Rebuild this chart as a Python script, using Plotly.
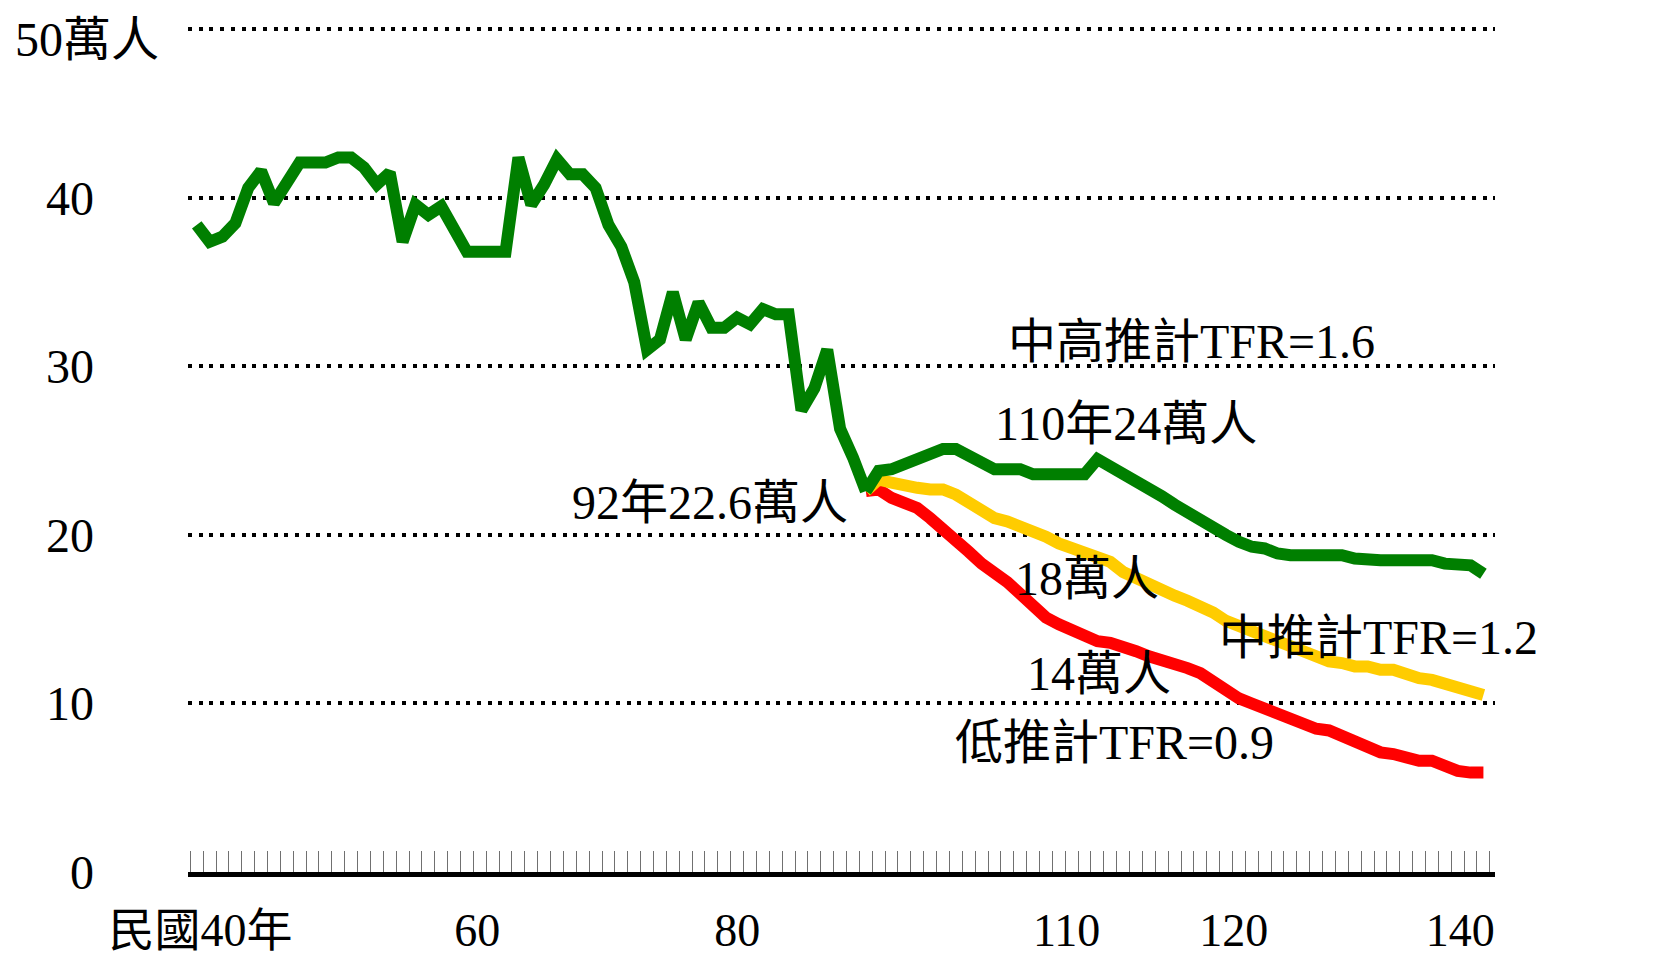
import plotly.graph_objects as go

# 出生數 (萬人), 民國年
years_hist = list(range(40, 93))
births_hist = [
    38.4, 37.4, 37.7, 38.5, 40.6, 41.6, 39.7, 41.0, 42.1, 42.1,
    42.1, 42.4, 42.4, 41.8, 40.8, 41.5, 37.4, 39.6, 39.0, 39.5,
    38.0, 36.8, 36.8, 36.8, 36.8, 42.4, 39.6, 40.8, 42.3, 41.4,
    41.4, 40.6, 38.4, 37.1, 35.0, 31.0, 31.6, 34.4, 31.6, 33.8,
    32.3, 32.3, 32.9, 32.5, 33.4, 33.1, 33.1, 27.4, 28.7, 31.0,
    26.3, 24.6, 22.6,
]

years_proj = list(range(92, 141))
births_high = [
    22.6, 23.8, 23.9, 24.2, 24.5, 24.8, 25.1, 25.1, 24.7, 24.3,
    23.9, 23.9, 23.9, 23.6, 23.6, 23.6, 23.6, 23.6, 24.5, 24.1,
    23.6, 23.2, 22.8, 22.3, 21.8, 21.3, 20.9, 20.5, 20.0, 19.6,
    19.3, 19.2, 18.9, 18.8, 18.8, 18.8, 18.8, 18.8, 18.6, 18.5,
    18.5, 18.5, 18.5, 18.5, 18.5, 18.3, 18.2, 18.2, 17.7,
]
births_mid = [
    22.6, 23.3, 23.1, 22.9, 22.8, 22.7, 22.7, 22.4, 21.9, 21.4,
    21.0, 20.8, 20.5, 20.3, 19.9, 19.5, 19.2, 18.9, 18.7, 18.4,
    17.8, 17.4, 17.0, 16.6, 16.4, 16.1, 15.8, 15.4, 14.9, 14.6,
    14.2, 13.9, 13.6, 13.3, 13.0, 12.7, 12.5, 12.4, 12.2, 12.2,
    12.0, 12.0, 11.7, 11.5, 11.4, 11.2, 11.0, 10.8, 10.5,
]
births_low = [
    22.6, 22.7, 22.2, 21.9, 21.6, 21.0, 20.4, 19.8, 19.0, 18.3,
    17.8, 17.2, 16.5, 15.8, 15.1, 14.7, 14.3, 13.9, 13.7, 13.6,
    13.4, 13.1, 12.8, 12.6, 12.4, 12.1, 11.8, 11.3, 10.6, 10.3,
    10.0, 9.7, 9.4, 9.1, 8.9, 8.5, 8.4, 8.1, 7.7, 7.4,
    7.1, 7.0, 6.8, 6.6, 6.6, 6.3, 6.0, 5.9, 5.9,
]

y_tickvals = [0, 10, 20, 30, 40, 50]
y_ticktext = ["0", "10", "20", "30", "40", ""]
x_ticktext = ["民國40年", "60", "80", "110", "120", "140"]
# 原圖標籤位置並不在整數年上
x_label_pos = [40.3, 61.8, 82.0, 107.6, 120.6, 138.2]

FONT = "Liberation Serif, 'Noto Sans CJK TC', serif"
LW = 12

fig = go.Figure()

fig.add_trace(go.Scatter(x=years_proj, y=births_low, mode="lines",
                         line=dict(color="#FF0000", width=LW)))
fig.add_trace(go.Scatter(x=years_proj, y=births_mid, mode="lines",
                         line=dict(color="#FFCC00", width=LW)))
fig.add_trace(go.Scatter(x=years_proj, y=births_high, mode="lines",
                         line=dict(color="#007F00", width=LW)))
fig.add_trace(go.Scatter(x=years_hist, y=births_hist, mode="lines",
                         line=dict(color="#007F00", width=LW)))

# 文字標註 (text, x, y)
notes = [
    ("中高推計TFR=1.6", 102.87, 31.5),
    ("110年24萬人", 101.9, 26.6),
    ("18萬人", 103.4, 17.4),
    ("中推計TFR=1.2", 119.3, 13.9),
    ("14萬人", 104.4, 11.8),
    ("低推計TFR=0.9", 98.8, 7.7),
    ("18萬人", 141.1, 17.35),
    ("10萬人", 142.4, 9.6),
    ("6萬人", 142.4, 3.9),
]
for text, x, y in notes:
    fig.add_annotation(x=x, y=y, text=text, showarrow=False,
                       xanchor="left", yanchor="middle")

fig.add_annotation(x=90.74, y=21.9, text="92年22.6萬人", showarrow=False,
                   xanchor="right", yanchor="middle")
fig.add_annotation(x=0, xref="paper", y=50, text="50萬人", showarrow=False,
                   xanchor="left", yanchor="middle", xshift=-175, yshift=-10)

# 頁面 body 有 8px 預設邊距, 邊界值已扣除
fig.update_layout(
    width=1674,
    height=963,
    margin=dict(l=180, r=187, t=13, b=99),
    paper_bgcolor="white",
    plot_bgcolor="white",
    showlegend=False,
    font=dict(family=FONT, size=48, color="black"),
    xaxis=dict(
        range=[39.32, 140.9],
        tickmode="array",
        tickvals=x_label_pos,
        ticktext=x_ticktext,
        tickfont=dict(size=46),
        ticks="",
        ticklabelstandoff=14,
        automargin=False,
        showgrid=False,
        zeroline=False,
        showline=True,
        linecolor="black",
        linewidth=5,
        minor=dict(
            ticks="inside",
            tickmode="linear",
            tick0=39.5,
            dtick=1,
            ticklen=21,
            tickwidth=1,
            tickcolor="#707070",
            showgrid=False,
        ),
    ),
    yaxis=dict(
        range=[0, 50.5],
        tickmode="array",
        tickvals=y_tickvals,
        ticktext=y_ticktext,
        ticks="",
        ticklabelstandoff=93,
        automargin=False,
        showgrid=True,
        gridcolor="black",
        gridwidth=4,
        griddash="4px,6.7px",
        zeroline=False,
        showline=False,
    ),
)

fig.write_html("out.html")
